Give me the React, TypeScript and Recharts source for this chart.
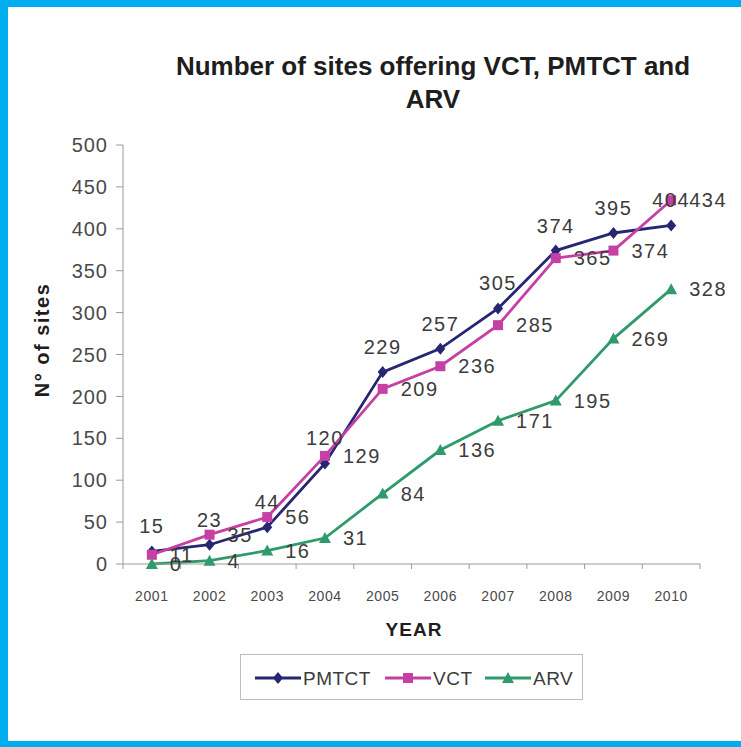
import { LabelList, Line, LineChart, XAxis, YAxis } from "recharts"

const years = ["2001", "2002", "2003", "2004", "2005", "2006", "2007", "2008", "2009", "2010"]
const pmtct = [15, 23, 44, 120, 229, 257, 305, 374, 395, 404]
const vct = [11, 35, 56, 129, 209, 236, 285, 365, 374, 434]
const arv = [0, 4, 16, 31, 84, 136, 171, 195, 269, 328]
const yTicks = [0, 50, 100, 150, 200, 250, 300, 350, 400, 450, 500]

const data = years.map((year, i) => ({ year, pmtct: pmtct[i], vct: vct[i], arv: arv[i] }))

const NAVY = "#262673"
const PINK = "#c63fa4"
const GREEN = "#2f9a6c"
const FONT = "'Liberation Sans', Arial, sans-serif"

const W = 741
const H = 747
const PLOT_W = 577

const Diamond = ({ cx, cy, color = NAVY }: any) => (
  <polygon points={`${cx},${cy - 6} ${cx + 5},${cy} ${cx},${cy + 6} ${cx - 5},${cy}`} fill={color} />
)
const Square = ({ cx, cy, color = PINK }: any) => <rect x={cx - 5} y={cy - 5} width={10} height={10} fill={color} />
const Triangle = ({ cx, cy, color = GREEN }: any) => (
  <polygon points={`${cx},${cy - 6} ${cx + 6},${cy + 5} ${cx - 6},${cy + 5}`} fill={color} />
)

// year label plus small tick marks at the band edges
const XTick = (props: any) => {
  const { x, y, payload, index } = props
  const half = PLOT_W / years.length / 2
  const top = y - 27
  return (
    <g>
      <line x1={x - half} x2={x - half} y1={top} y2={top + 5} stroke="#9a9a9a" />
      {index === years.length - 1 && <line x1={x + half} x2={x + half} y1={top} y2={top + 5} stroke="#9a9a9a" />}
      <text x={x} y={y} dy="0.71em" textAnchor="middle" fill="#4a4a4a" fontSize={14} letterSpacing={0.6}>
        {payload.value}
      </text>
    </g>
  )
}

const legendItems = [
  { name: "PMTCT", color: NAVY, Marker: Diamond },
  { name: "VCT", color: PINK, Marker: Square },
  { name: "ARV", color: GREEN, Marker: Triangle },
]

const labelStyle = { fill: "#3c3c3c", fontSize: 20, letterSpacing: 1.5 }

export default function App() {
  return (
    <div style={{ position: "absolute", left: 0, top: 0, width: W, height: H, background: "#00aeef", fontFamily: FONT }}>
      <div style={{ position: "absolute", left: 8, top: 7, right: 0, bottom: 6, background: "#ffffff" }} />
      <div
        style={{
          position: "absolute",
          left: 130,
          width: 606,
          top: 50,
          textAlign: "center",
          fontWeight: "bold",
          fontSize: 26,
          lineHeight: "33px",
          color: "#1e1e1e",
        }}
      >
        Number of sites offering VCT, PMTCT and
        <br />
        ARV
      </div>
      <div
        style={{
          position: "absolute",
          left: 42,
          top: 340,
          transform: "translate(-50%, -50%) rotate(-90deg)",
          fontWeight: "bold",
          fontSize: 20,
          letterSpacing: 1.5,
          whiteSpace: "nowrap",
          color: "#1e1e1e",
        }}
      >
        N° of sites
      </div>
      <div
        style={{
          position: "absolute",
          left: 414,
          top: 630,
          transform: "translate(-50%, -50%)",
          fontWeight: "bold",
          fontSize: 19,
          letterSpacing: 1,
          color: "#1e1e1e",
        }}
      >
        YEAR
      </div>
      <div style={{ position: "absolute", left: 0, top: 0 }}>
        <LineChart width={W} height={H} data={data} margin={{ top: 145, right: 41, left: 63, bottom: 123 }}>
          <XAxis
            dataKey="year"
            scale="band"
            height={60}
            stroke="#9a9a9a"
            tickLine={false}
            tickSize={0}
            tickMargin={27}
            tick={<XTick />}
            interval={0}
          />
          <YAxis
            width={60}
            domain={[0, 500]}
            ticks={yTicks}
            interval={0}
            stroke="#9a9a9a"
            tickSize={7}
            tickMargin={8}
            tick={{ fill: "#4a4a4a", fontSize: 20, letterSpacing: 1 }}
          />
          <Line dataKey="pmtct" name="PMTCT" stroke={NAVY} strokeWidth={2.8} dot={<Diamond />} isAnimationActive={false}>
            <LabelList dataKey="pmtct" position="top" offset={18} style={labelStyle} />
          </Line>
          <Line dataKey="vct" name="VCT" stroke={PINK} strokeWidth={2.8} dot={<Square />} isAnimationActive={false}>
            <LabelList dataKey="vct" position="right" offset={18} style={labelStyle} />
          </Line>
          <Line dataKey="arv" name="ARV" stroke={GREEN} strokeWidth={2.8} dot={<Triangle />} isAnimationActive={false}>
            <LabelList dataKey="arv" position="right" offset={18} style={labelStyle} />
          </Line>
        </LineChart>
      </div>
      <svg style={{ position: "absolute", left: 240, top: 654 }} width={345} height={48}>
        <rect x={0.5} y={0.5} width={342} height={45} fill="#fff" stroke="#bdbdbd" />
        {legendItems.map((item, i) => {
          const x0 = [15, 145, 245][i]
          return (
            <g key={item.name}>
              <line x1={x0} x2={x0 + 46} y1={24} y2={24} stroke={item.color} strokeWidth={2.8} />
              <item.Marker cx={x0 + 23} cy={24} color={item.color} />
              <text x={x0 + 48} y={24} dy="0.36em" fontSize={19} letterSpacing={0.5} fill="#3c3c3c">
                {item.name}
              </text>
            </g>
          )
        })}
      </svg>
    </div>
  )
}
